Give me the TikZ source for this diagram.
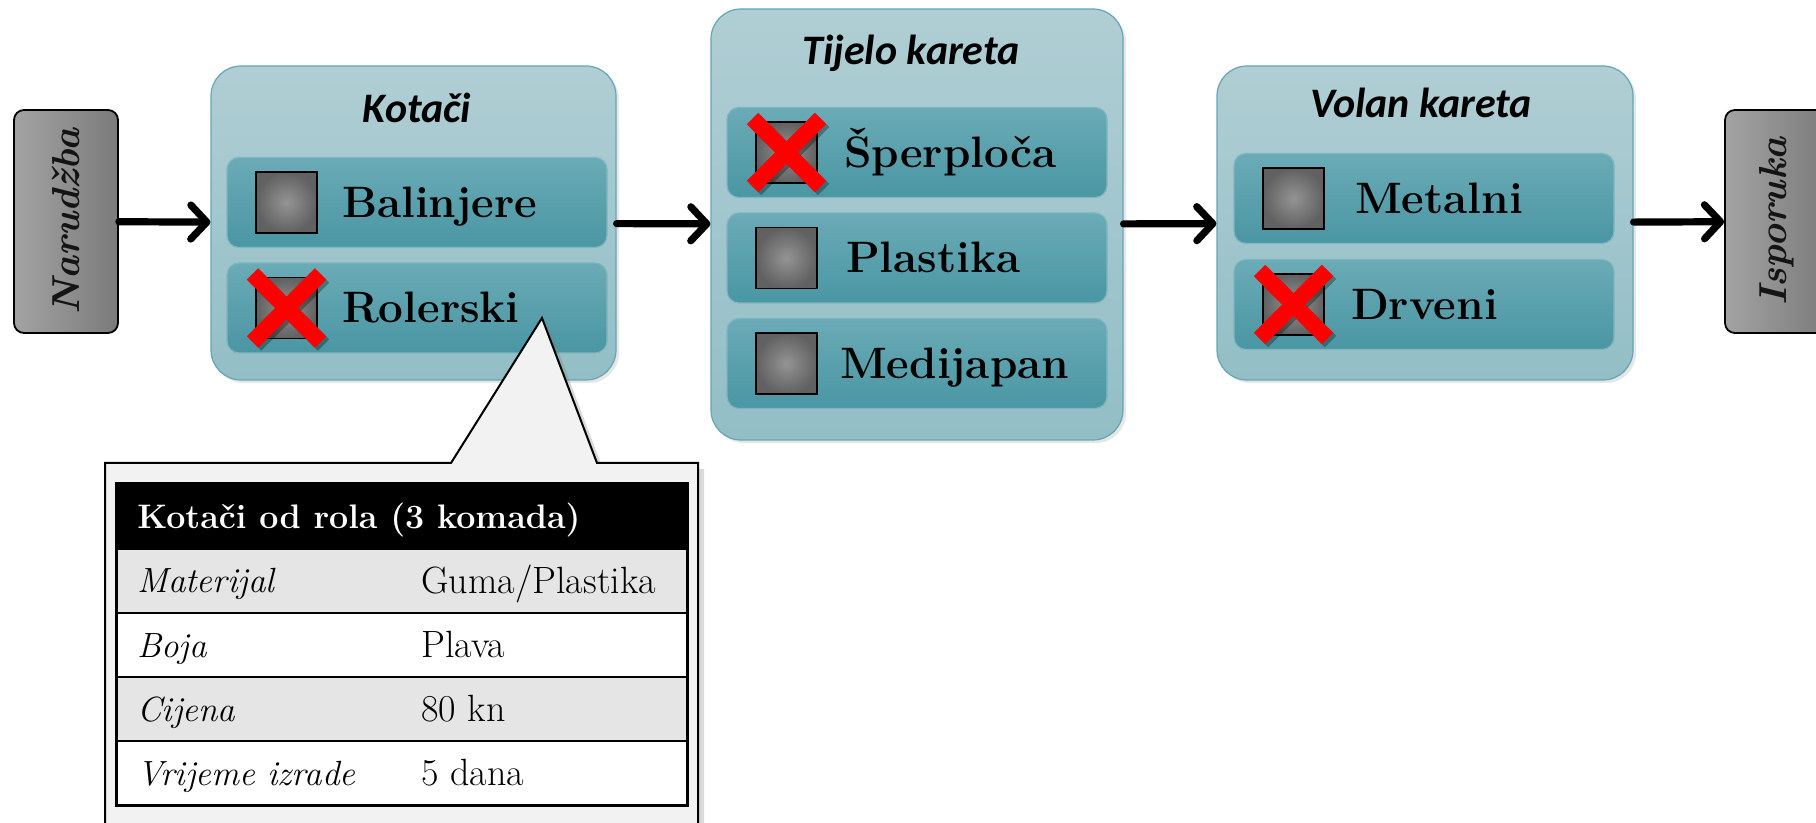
\documentclass[tikz,border=0pt]{standalone}
\usepackage{fontspec}
\newfontfamily\calibri{Carlito}
\usepackage{tikz}
\usetikzlibrary{arrows.meta,shadows,positioning}
\definecolor{grptop}{HTML}{B0CED4}
\definecolor{grpbot}{HTML}{93BEC6}
\definecolor{grpline}{HTML}{64A6B3}
\definecolor{rowtop}{HTML}{6AABB6}
\definecolor{rowbot}{HTML}{4A96A3}
\definecolor{rowline}{HTML}{7FB6C0}

\begin{document}
\begin{tikzpicture}
 [
 x=0.5pt, y=-0.5pt,
 stage/.style={
  rectangle,
  rounded corners=5pt,
  draw=black, line width=0.9pt,
  left color=black!36, right color=black!52,
  minimum width=52pt, minimum height=111.5pt,
  inner sep=0pt},
 stagetext/.style={rotate=90, text=black!92,
  font=\fontsize{19.5}{22}\selectfont\bfseries\itshape},
 group/.style={
  rectangle,
  rounded corners=15pt,
  draw=grpline, line width=0.6pt,
  top color=grptop, bottom color=grpbot,
  inner sep=0pt,
  drop shadow={shadow xshift=1.5pt, shadow yshift=-1.5pt, opacity=0.2}},
 title/.style={font=\calibri\fontsize{21}{24}\selectfont\bfseries\itshape},
 option/.style={
  rectangle,
  rounded corners=6pt,
  draw=rowline, line width=0.6pt,
  top color=rowtop, bottom color=rowbot,
  minimum width=190pt, minimum height=45pt},
 optiontext/.style={font=\fontsize{22}{26}\selectfont\bfseries,
  inner sep=0pt, text height=15pt, text depth=0pt},
 check/.style={rectangle, draw=black, line width=0.6pt,
  inner color=black!42, outer color=black!62,
  minimum size=30.5pt, inner sep=0pt},
 cross/.style={red, line width=8pt},
 crossshade/.style={black, opacity=0.3, line width=8pt},
 flow/.style={line width=3.6pt, line cap=round,
  -{Straight Barb[length=8pt, width=17pt, line cap=round, line join=round]}},
 cell/.style={rectangle, draw=black, line width=1pt,
  minimum width=285pt, minimum height=32pt, inner sep=0pt},
 celltext/.style={font=\fontsize{19}{22}\selectfont, inner sep=0pt,
  text height=12.5pt, text depth=0pt},
 keytext/.style={celltext, font=\fontsize{17.5}{20}\selectfont\itshape,
  text height=12pt}
 ]
\useasboundingbox (0,0) rectangle (1816,823);
\clip (0,0) rectangle (1816,823);

% start and end
\node (narudzba) [stage] at (66,221.5) {};
\node [stagetext] at (narudzba.center) {Narudžba};
\node (isporuka) [stage] at (1777,221.5) {};
\node [stagetext] at (isporuka.center) {Isporuka};

% wheels
\node (kotaci) [group, minimum width=202.5pt, minimum height=157pt] at (413.5,223) {};
\node (kotacititle) [title] at (417,108) {Kotači};
\node (balinjere) [option] at (417,202.5) {};
\node (cbbal) [check, right=14.5pt of balinjere.west] {};
\node [optiontext, right=12pt of cbbal] {Balinjere};
\node (rolerski) [option] at (417,308) {};
\node (cbrol) [check, right=14.5pt of rolerski.west] {};
\node [optiontext, right=12pt of cbrol] {Rolerski};

% body
\node (tijelo) [group, minimum width=206pt, minimum height=215.5pt] at (917,224.5) {};
\node (tijelotitle) [title] at (911,53) {Tijelo kareta};
\node (sperploca) [option] at (917,152.5) {};
\node (cbspe) [check, right=14.5pt of sperploca.west] {};
\node [optiontext, right=13pt of cbspe] {Šperploča};
\node (plastika) [option] at (917,258) {};
\node (cbpla) [check, right=14.5pt of plastika.west] {};
\node [optiontext, right=14pt of cbpla] {Plastika};
\node (medijapan) [option] at (917,363.5) {};
\node (cbmed) [check, right=14.5pt of medijapan.west] {};
\node [optiontext, right=11pt of cbmed] {Medijapan};

% steering wheel
\node (volan) [group, minimum width=208pt, minimum height=157pt] at (1425,223) {};
\node (volantitle) [title] at (1421,103) {Volan kareta};
\node (metalni) [option] at (1424,198.5) {};
\node (cbmet) [check, right=14.5pt of metalni.west] {};
\node [optiontext, right=15pt of cbmet] {Metalni};
\node (drveni) [option] at (1424,304.5) {};
\node (cbdrv) [check, right=14.5pt of drveni.west] {};
\node [optiontext, right=13pt of cbdrv] {Drveni};

% crossed out choices
\draw[crossshade] ([shift={(-15.5pt,-18.5pt)}]cbrol.center) -- ([shift={(18.5pt,15.5pt)}]cbrol.center);
\draw[crossshade] ([shift={(-15.5pt,15.5pt)}]cbrol.center) -- ([shift={(18.5pt,-18.5pt)}]cbrol.center);
\draw[cross] ([shift={(-17pt,-17pt)}]cbrol.center) -- ([shift={(17pt,17pt)}]cbrol.center);
\draw[cross] ([shift={(-17pt,17pt)}]cbrol.center) -- ([shift={(17pt,-17pt)}]cbrol.center);
\draw[crossshade] ([shift={(-15.5pt,-18.5pt)}]cbspe.center) -- ([shift={(18.5pt,15.5pt)}]cbspe.center);
\draw[crossshade] ([shift={(-15.5pt,15.5pt)}]cbspe.center) -- ([shift={(18.5pt,-18.5pt)}]cbspe.center);
\draw[cross] ([shift={(-17pt,-17pt)}]cbspe.center) -- ([shift={(17pt,17pt)}]cbspe.center);
\draw[cross] ([shift={(-17pt,17pt)}]cbspe.center) -- ([shift={(17pt,-17pt)}]cbspe.center);
\draw[crossshade] ([shift={(-15.5pt,-18.5pt)}]cbdrv.center) -- ([shift={(18.5pt,15.5pt)}]cbdrv.center);
\draw[crossshade] ([shift={(-15.5pt,15.5pt)}]cbdrv.center) -- ([shift={(18.5pt,-18.5pt)}]cbdrv.center);
\draw[cross] ([shift={(-17pt,-17pt)}]cbdrv.center) -- ([shift={(17pt,17pt)}]cbdrv.center);
\draw[cross] ([shift={(-17pt,17pt)}]cbdrv.center) -- ([shift={(17pt,-17pt)}]cbdrv.center);

% flow
\draw[flow] (narudzba) -- (kotaci);
\draw[flow] (kotaci) -- (tijelo);
\draw[flow] (tijelo) -- (volan);
\draw[flow] (volan) -- (isporuka);

% callout with details
\coordinate (tip) at (542,318);
\path[fill=black!5, draw=black, line width=1pt,
  drop shadow={shadow xshift=3pt, shadow yshift=-3pt, opacity=0.3}]
  (105,463) -- (451,463) -- (tip) -- (597,463) -- (698,463)
  -- (698,860) -- (105,860) -- cycle;
\node (head) [cell, fill=black, minimum height=32.5pt] at (402,516.5) {};
\node [celltext, text=white, font=\fontsize{17}{20}\selectfont\bfseries, text height=12pt, right=10.5pt of head.west] {Kotači od rola (3 komada)};
\node (materijal) [cell, fill=black!10] at (402,581) {};
\node [keytext, right=10.5pt of materijal.west] {Materijal};
\node [celltext, right=152.5pt of materijal.west] {Guma/Plastika};
\node (boja) [cell, fill=white] at (402,645) {};
\node [keytext, right=10.5pt of boja.west] {Boja};
\node [celltext, right=152.5pt of boja.west] {Plava};
\node (cijena) [cell, fill=black!10] at (402,709) {};
\node [keytext, right=10.5pt of cijena.west] {Cijena};
\node [celltext, right=152.5pt of cijena.west] {80 kn};
\node (vrijeme) [cell, fill=white] at (402,773) {};
\node [keytext, right=10.5pt of vrijeme.west] {Vrijeme izrade};
\node [celltext, right=152.5pt of vrijeme.west] {5 dana};
\draw[line width=1.4pt] (head.north west) rectangle (vrijeme.south east);
\end{tikzpicture}
\end{document}
